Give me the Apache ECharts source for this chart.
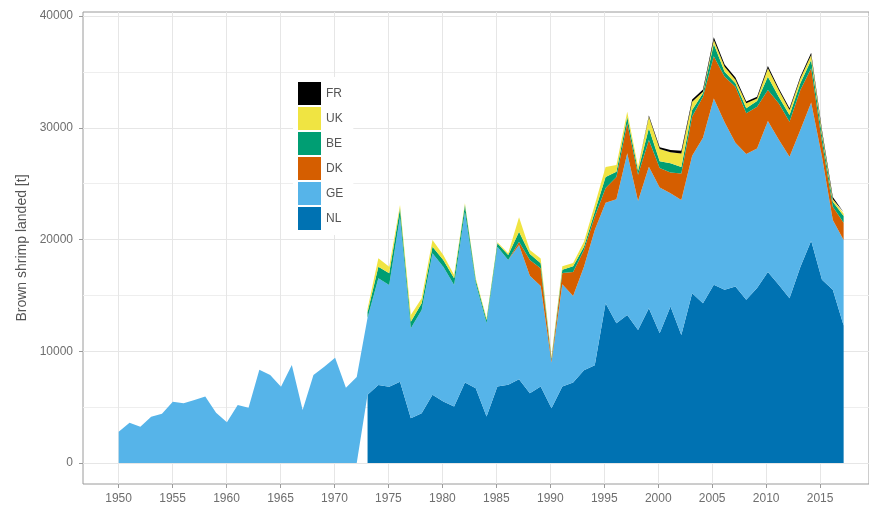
<!DOCTYPE html>
<html>
<head>
<meta charset="utf-8">
<title>Brown shrimp landings</title>
<script src="https://cdn.jsdelivr.net/npm/echarts@6/dist/echarts.min.js"></script>
<style>
  html, body { margin: 0; padding: 0; background: #ffffff; }
  #chart { width: 869px; height: 506px; }
</style>
</head>
<body>
<div id="chart"></div>
<script>
// Landings of brown shrimp (tonnes) per country, 1950-2017
const years = [];
for (let y = 1950; y <= 2017; y++) years.push(String(y));

const countries = ['NL', 'GE', 'DK', 'BE', 'UK', 'FR'];
const colors = {
  NL: '#0072B2', GE: '#56B4E9', DK: '#D55E00',
  BE: '#009E73', UK: '#F0E442', FR: '#000000'
};

const pre1973 = new Array(23).fill(null);

const NL = pre1973.concat([
  6100, 6980, 6830, 7280, 4000, 4450, 6100, 5500, 5050, 7200,
  6700, 4150, 6850, 7000, 7500, 6250, 6850, 4900, 6850, 7200,
  8300, 8750, 14300, 12500, 13250, 11900, 13850, 11600, 14000, 11450,
  15200, 14300, 15950, 15500, 15800, 14600, 15650, 17100, 15950, 14750,
  17550, 19900, 16400, 15500, 12300
]);

const GE = [
  2800, 3600, 3250, 4140, 4400, 5490, 5340, 5640, 5940, 4500,
  3650, 5190, 4950, 8350, 7870, 6830, 8770, 4740, 7870, 8620,
  9420, 6730, 7700,
  6900, 9550, 9100, 14760, 8050, 9240, 12670, 12070, 10880, 15290,
  9380, 8350, 12510, 11170, 12000, 10500, 9000, 4100, 9150, 7750,
  9270, 12100, 9000, 11100, 14460, 11550, 12670, 13050, 10130, 12090,
  12300, 14800, 16680, 15000, 12850, 13050, 12500, 13500, 13000, 12660,
  12250, 12350, 11000, 6250, 7660
];

const DK = pre1973.concat([
  0, 0, 0, 0, 0, 0, 0, 0, 0, 0,
  0, 0, 0, 0, 300, 1420, 1570, 200, 1000, 2150,
  1490, 1190, 1300, 2000, 2690, 2350, 2380, 1750, 1870, 2360,
  3500, 3680, 3770, 4070, 5030, 3640, 3740, 2780, 3240, 3130,
  3580, 3070, 1300, 1190, 1540
]);

const BE = pre1973.concat([
  500, 1040, 1050, 750, 600, 600, 590, 600, 600, 600,
  300, 300, 300, 440, 900, 530, 450, 150, 300, 500,
  300, 450, 1000, 470, 590, 350, 1050, 600, 820, 600,
  600, 300, 1100, 450, 300, 450, 510, 1190, 590, 600,
  600, 740, 600, 440, 600
]);

const UK = pre1973.concat([
  300, 750, 590, 300, 590, 450, 600, 440, 290, 150,
  150, 150, 100, 160, 1300, 360, 430, 150, 300, 300,
  440, 600, 900, 600, 450, 350, 1040, 1100, 980, 1200,
  730, 150, 350, 440, 320, 450, 230, 750, 600, 450,
  440, 450, 300, 220, 200
]);

const FR = pre1973.concat([
  0, 0, 0, 0, 0, 0, 0, 0, 0, 0,
  0, 0, 0, 0, 0, 0, 0, 0, 0, 0,
  0, 0, 0, 0, 0, 0, 100, 150, 200, 250,
  200, 200, 250, 200, 200, 150, 150, 200, 150, 150,
  150, 200, 200, 200, 150
]);

const values = { NL, GE, DK, BE, UK, FR };

const xTicks = [1950, 1955, 1960, 1965, 1970, 1975, 1980, 1985, 1990, 1995, 2000, 2005, 2010, 2015];
const yTicks = [0, 10000, 20000, 30000, 40000];
const yMinorTicks = [5000, 15000, 25000, 35000];
const legendOrder = ['FR', 'UK', 'BE', 'DK', 'GE', 'NL'];

const font = "'Liberation Sans', Arial, sans-serif";
const axisGrey = '#9a9a9a';
const gridGrey = '#e6e6e6';

// panel geometry: the year scale runs 1946.70 .. 2019.53 across the panel
const panelLeft = 83, panelTop = 12, panelBottom = 22;
const xMin = 1946.70, xMax = 2019.53;
const yMin = -1880, yMax = 40360;
const panelWidth = 869 + 2 - panelLeft;
const pxPerYear = panelWidth / (xMax - xMin);
const dataLeft = panelLeft + (1950 - xMin) * pxPerYear;
const dataRight = 869 - (panelLeft + (2017 - xMin) * pxPerYear);

const series = countries.map(c => ({
  name: c,
  type: 'line',
  stack: 'total',
  xAxisIndex: 1,
  yAxisIndex: 2,
  symbol: 'none',
  silent: true,
  color: colors[c],
  lineStyle: { width: 0 },
  areaStyle: { color: colors[c], opacity: 1 },
  data: values[c]
}));

const chart = echarts.init(document.getElementById('chart'), null, { renderer: 'canvas' });
chart.setOption({
  animation: false,
  backgroundColor: '#ffffff',
  grid: [{
    left: panelLeft, top: panelTop, right: -2, bottom: panelBottom,
    show: true, borderColor: axisGrey, borderWidth: 1,
    backgroundColor: 'transparent'
  }, {
    left: dataLeft, top: panelTop, right: dataRight, bottom: panelBottom
  }],
  legend: {
    orient: 'vertical',
    left: 293, top: 77,
    data: legendOrder,
    icon: 'rect',
    itemWidth: 23, itemHeight: 23, itemGap: 2,
    padding: [5, 10, 5, 5],
    backgroundColor: '#ffffff',
    selectedMode: false,
    textStyle: { fontFamily: font, fontSize: 12, color: '#555555' }
  },
  xAxis: [{
    type: 'value',
    gridIndex: 0,
    min: xMin, max: xMax,
    axisLine: { show: false, onZero: false },
    axisTick: { show: true, length: 4, customValues: xTicks, lineStyle: { color: axisGrey } },
    axisLabel: {
      customValues: xTicks, margin: 9, color: '#6e6e6e',
      fontFamily: font, fontSize: 12, formatter: v => String(v)
    },
    splitLine: { show: true, lineStyle: { color: gridGrey, width: 1 } }
  }, {
    type: 'category',
    gridIndex: 1,
    data: years,
    boundaryGap: false,
    show: false
  }],
  yAxis: [{
    type: 'value',
    gridIndex: 0,
    min: yMin, max: yMax,
    name: 'Brown shrimp landed [t]',
    nameLocation: 'middle',
    nameGap: 54,
    nameTextStyle: { fontFamily: font, fontSize: 14, color: '#555555' },
    axisLine: { show: false, onZero: false },
    axisTick: { show: true, length: 4, customValues: yTicks, lineStyle: { color: axisGrey } },
    axisLabel: {
      customValues: yTicks, margin: 10, color: '#6e6e6e',
      fontFamily: font, fontSize: 12, formatter: v => String(v)
    },
    splitLine: { show: true, lineStyle: { color: gridGrey, width: 1 } }
  }, {
    type: 'value',
    gridIndex: 0,
    min: yMin, max: yMax,
    position: 'left',
    axisLine: { show: false, onZero: false },
    axisTick: { show: false, customValues: yMinorTicks },
    axisLabel: { show: false, customValues: yMinorTicks },
    splitLine: { show: true, lineStyle: { color: '#eeeeee', width: 1 } }
  }, {
    type: 'value',
    gridIndex: 1,
    min: yMin, max: yMax,
    show: false,
    splitLine: { show: false }
  }],
  series: series
});
</script>
</body>
</html>
